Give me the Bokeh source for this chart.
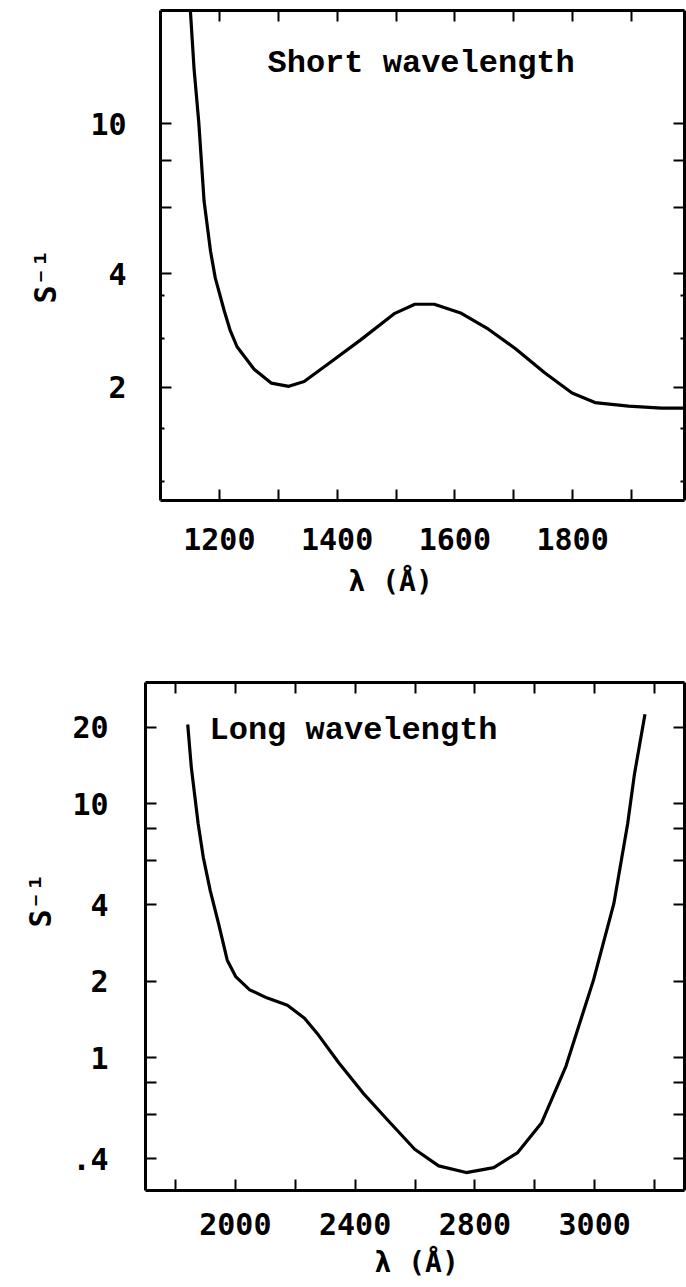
from bokeh.plotting import figure
from bokeh.models import FixedTicker, LinearAxis, LogAxis, Label, Range1d, Title
from bokeh.embed import file_html
from bokeh.resources import INLINE

# ---------------- data: short wavelength panel ----------------
short_lambda = [1149, 1151, 1157, 1165, 1174, 1185, 1193, 1208, 1218, 1230, 1259, 1288,
                1318, 1344, 1384, 1440, 1498, 1532, 1565, 1611, 1657, 1703, 1753, 1799,
                1838, 1895, 1951, 1990]
short_rate = [21.0, 19.7, 14.0, 10.1, 6.24, 4.59, 3.90, 3.20, 2.84, 2.56, 2.23, 2.05,
              2.01, 2.07, 2.30, 2.67, 3.14, 3.32, 3.32, 3.14, 2.85, 2.53, 2.18, 1.93,
              1.82, 1.78, 1.76, 1.76]
short_x_ticks = [1200, 1300, 1400, 1500, 1600, 1700, 1800, 1900]
short_x_labels = ["1200", "", "1400", "", "1600", "", "1800", ""]
short_y_ticks = [2, 4, 6, 8, 10]
short_y_labels = ["2", "4", "", "", "10"]
short_y_minor = [1.12, 1.55, 2.7, 3.5]

# ---------------- data: long wavelength panel ----------------
long_lambda = [1841, 1853, 1876, 1893, 1916, 1944, 1973, 2002, 2048, 2105, 2174, 2231,
               2277, 2346, 2426, 2507, 2599, 2679, 2771, 2863, 2943, 3023, 3104, 3196,
               3264, 3310, 3333, 3368]
long_rate = [20.5, 13.9, 8.32, 6.15, 4.56, 3.37, 2.42, 2.08, 1.85, 1.72, 1.61, 1.43,
             1.23, 0.953, 0.727, 0.571, 0.436, 0.375, 0.353, 0.369, 0.423, 0.555, 0.925,
             2.02, 4.04, 8.32, 13.1, 22.5]
long_x_ticks = [1800, 2000, 2200, 2400, 2600, 2800, 3000, 3200, 3400]
long_x_labels = ["", "2000", "", "2400", "", "2800", "", "3000", ""]
long_y_ticks = [0.4, 0.6, 0.8, 1, 2, 4, 6, 8, 10, 20]
long_y_labels = [".4", "", "", "1", "2", "4", "", "", "10", "20"]

TICK_FONT = "DejaVu Sans Mono"
TITLE_FONT = "Liberation Mono"


def style_axis(ax, standoff=10):
    ax.axis_line_width = 3
    ax.axis_line_color = "black"
    ax.major_tick_in = 11
    ax.major_tick_out = 0
    ax.major_tick_line_width = 2
    ax.major_tick_line_color = "black"
    ax.minor_tick_in = 4
    ax.minor_tick_out = 0
    ax.minor_tick_line_width = 2
    ax.minor_tick_line_color = "black"
    ax.major_label_text_font = TICK_FONT
    ax.major_label_text_font_style = "bold"
    ax.major_label_text_font_size = "30px"
    ax.major_label_text_color = "black"
    ax.major_label_standoff = standoff
    ax.axis_label = None


def mirror_axis(ax):
    # tick marks only (the reference shows no numbers on the top/right frames)
    style_axis(ax, 0)
    ax.major_label_text_font_size = "1px"


def make_panel(width, height, borders, xr, yr, xs, ys, xt, xl, yt, yl, ym,
               title, title_pos, x_standoff, y_standoff,
               xlab_standoff, xlab_offset, ylab_standoff, ylab_offset):
    left, right, top, bottom = borders
    p = figure(width=width, height=height, x_range=Range1d(*xr), y_range=Range1d(*yr),
               y_axis_type="log", output_backend="svg", toolbar_location=None,
               min_border_left=left, min_border_right=right,
               min_border_top=top, min_border_bottom=bottom)
    p.grid.visible = False
    p.outline_line_color = None
    p.background_fill_color = "white"
    p.border_fill_color = "white"

    bx = p.xaxis[0]
    bx.ticker = FixedTicker(ticks=xt, minor_ticks=[])
    bx.major_label_overrides = dict(zip(xt, xl))
    style_axis(bx, x_standoff)

    ly = p.yaxis[0]
    ly.ticker = FixedTicker(ticks=yt, minor_ticks=ym)
    ly.major_label_overrides = dict(zip(yt, yl))
    style_axis(ly, y_standoff)

    top_ax = LinearAxis(ticker=FixedTicker(ticks=xt, minor_ticks=[]))
    mirror_axis(top_ax)
    top_ax.major_label_overrides = {t: "" for t in xt}
    p.add_layout(top_ax, "above")

    right_ax = LogAxis(ticker=FixedTicker(ticks=yt, minor_ticks=ym))
    mirror_axis(right_ax)
    right_ax.major_label_overrides = {t: "" for t in yt}
    p.add_layout(right_ax, "right")

    # axis titles, placed outside the axes
    p.add_layout(Title(text="λ (Å)", align="left", offset=xlab_offset,
                       standoff=xlab_standoff, text_font=TICK_FONT,
                       text_font_style="bold", text_font_size="28px",
                       text_color="black"), "below")
    p.add_layout(Title(text="S⁻¹", align="left", offset=ylab_offset,
                       standoff=ylab_standoff, text_font=TICK_FONT,
                       text_font_style="bold", text_font_size="30px",
                       text_color="black"), "left")

    p.line(xs, ys, line_color="black", line_width=3.2, line_join="round")

    p.add_layout(Label(x=title_pos[0], y=title_pos[1], x_units="screen", y_units="screen",
                       text=title, text_font=TITLE_FONT, text_font_style="bold",
                       text_font_size="32px", text_align="left", text_baseline="middle",
                       text_color="black"))
    return p


p1 = make_panel(686, 640, (160, 2, 10, 140), (1100, 1990), (1, 20),
                short_lambda, short_rate, short_x_ticks, short_x_labels,
                short_y_ticks, short_y_labels, short_y_minor,
                "Short wavelength", (107, 437), 27, 34,
                20, 188, 49, 197)

p2 = make_panel(686, 647, (145, 2, 42, 97), (1700, 3500), (0.3, 30),
                long_lambda, long_rate, long_x_ticks, long_x_labels,
                long_y_ticks, long_y_labels, [],
                "Long wavelength", (64, 460), 22, 37,
                12, 229, 23, 263)

# two independent roots stacked vertically (keeps each frame's own left edge)
open("out.html", "w").write(file_html([p1, p2], INLINE))
